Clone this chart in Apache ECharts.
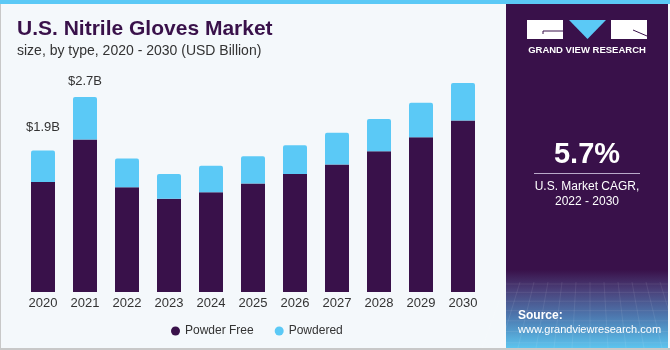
<!DOCTYPE html>
<html>
<head>
<meta charset="utf-8">
<script src="https://cdn.jsdelivr.net/npm/echarts@6/dist/echarts.min.js"></script>
<style>
html,body{margin:0;padding:0;background:#f4f8fb;}
#chart{width:670px;height:350px;}
</style>
</head>
<body>
<div id="chart"></div>
<script>
var categories = ['2020','2021','2022','2023','2024','2025','2026','2027','2028','2029','2030'];
var powderFree = [1.50, 2.08, 1.43, 1.27, 1.36, 1.48, 1.61, 1.74, 1.92, 2.11, 2.34];
var powdered   = [0.43, 0.58, 0.39, 0.34, 0.36, 0.37, 0.39, 0.43, 0.44, 0.47, 0.51];
var totalLabels = ['$1.9B', '$2.7B', '', '', '', '', '', '', '', '', ''];
var seriesNames = ['Powder Free', 'Powdered'];
var titleText = 'U.S. Nitrile Gloves Market';
var subtitleText = 'size, by type, 2020 - 2030 (USD Billion)';
var cagrValue = '5.7%';
var cagrLines = ['U.S. Market CAGR,', '2022 - 2030'];
var brandText = 'GRAND VIEW RESEARCH';
var sourceLines = ['Source:', 'www.grandviewresearch.com'];

var DARK = '#39114a';
var LIGHT = '#5bc9f6';
var FONT = '"Liberation Sans", Arial, sans-serif';

var chart = echarts.init(document.getElementById('chart'), null, {renderer: 'canvas'});

var labelDist = [17, 9];

var option = {
  backgroundColor: '#f4f8fb',
  animation: false,
  textStyle: {fontFamily: FONT},
  title: {
    text: titleText,
    subtext: subtitleText,
    left: 12,
    top: 14,
    itemGap: 4,
    textStyle: {fontSize: 21, fontWeight: 900, color: DARK, fontFamily: FONT},
    subtextStyle: {fontSize: 14, color: '#333', fontFamily: FONT}
  },
  legend: {
    data: seriesNames,
    left: 166,
    top: 320,
    icon: 'circle',
    itemWidth: 9,
    itemHeight: 9,
    itemGap: 21,
    textStyle: {fontSize: 12, color: '#333', fontFamily: FONT}
  },
  grid: {left: 22, width: 462, top: 72, height: 220},
  xAxis: {
    type: 'category',
    data: categories,
    axisLine: {show: false},
    axisTick: {show: false},
    axisLabel: {fontSize: 13, color: '#333', margin: 5, fontFamily: FONT}
  },
  yAxis: {
    type: 'value',
    min: 0,
    max: 3,
    show: false,
    splitLine: {show: false}
  },
  series: [
    {
      name: seriesNames[0],
      type: 'bar',
      stack: 'total',
      barWidth: 24,
      data: powderFree,
      itemStyle: {color: DARK}
    },
    {
      name: seriesNames[1],
      type: 'bar',
      stack: 'total',
      barWidth: 24,
      data: powdered.map(function (v, i) {
        return {
          value: v,
          label: {show: !!totalLabels[i], distance: labelDist[i] || 5}
        };
      }),
      itemStyle: {color: LIGHT, borderRadius: [2, 2, 0, 0]},
      label: {
        position: 'top',
        fontSize: 13,
        color: '#333',
        fontFamily: FONT,
        formatter: function (p) { return totalLabels[p.dataIndex]; }
      }
    }
  ],
  graphic: [
    {type: 'rect', shape: {x: 0, y: 0, width: 670, height: 4}, style: {fill: LIGHT}, z: 10},
    {type: 'rect', shape: {x: 0, y: 4, width: 1, height: 346}, style: {fill: '#c8c8c8'}, z: 10},
    {type: 'rect', shape: {x: 0, y: 348, width: 670, height: 2}, style: {fill: '#c8c8c8'}, z: 10},
    {type: 'rect', shape: {x: 506, y: 4, width: 162, height: 344}, style: {fill: DARK}, z: 5},
    {type: 'rect', shape: {x: 506, y: 270, width: 162, height: 78},
      style: {fill: new echarts.graphic.LinearGradient(0, 0, 0, 1, [
        {offset: 0, color: DARK},
        {offset: 0.25, color: '#4a3f78'},
        {offset: 0.6, color: '#4d79b0'},
        {offset: 1, color: '#5cc4ee'}
      ])}, z: 6},
    {type: 'rect', shape: {x: 527, y: 20, width: 36, height: 19}, style: {fill: '#fff'}, z: 11},
    {type: 'line', shape: {x1: 543, y1: 31, x2: 563, y2: 31}, style: {stroke: DARK, lineWidth: 1}, z: 12},
    {type: 'line', shape: {x1: 543, y1: 31, x2: 543, y2: 34}, style: {stroke: DARK, lineWidth: 1}, z: 12},
    {type: 'polygon', shape: {points: [[569, 20], [606, 20], [587.5, 39]]}, style: {fill: LIGHT}, z: 11},
    {type: 'rect', shape: {x: 611, y: 20, width: 36, height: 19}, style: {fill: '#fff'}, z: 11},
    {type: 'line', shape: {x1: 633, y1: 30, x2: 647, y2: 36}, style: {stroke: DARK, lineWidth: 1}, z: 12},
    {type: 'text', x: 587, y: 50, style: {text: brandText, fill: '#fff', font: 'bold 9.5px ' + FONT, textAlign: 'center', textVerticalAlign: 'middle'}, z: 11},
    {type: 'text', x: 587, y: 155, style: {text: cagrValue, fill: '#fff', font: 'bold 29px ' + FONT, textAlign: 'center', textVerticalAlign: 'middle'}, z: 11},
    {type: 'rect', shape: {x: 534, y: 173, width: 106, height: 1}, style: {fill: '#b9a9c9'}, z: 11},
    {type: 'text', x: 587, y: 187, style: {text: cagrLines[0], fill: '#fff', font: '12px ' + FONT, textAlign: 'center', textVerticalAlign: 'middle'}, z: 11},
    {type: 'text', x: 587, y: 202, style: {text: cagrLines[1], fill: '#fff', font: '12px ' + FONT, textAlign: 'center', textVerticalAlign: 'middle'}, z: 11},
    {type: 'text', x: 518, y: 316, style: {text: sourceLines[0], fill: '#fff', font: 'bold 12px ' + FONT, textAlign: 'left', textVerticalAlign: 'middle'}, z: 11},
    {type: 'text', x: 518, y: 330, style: {text: sourceLines[1], fill: '#fff', font: '11px ' + FONT, textAlign: 'left', textVerticalAlign: 'middle'}, z: 11}
  ]
};

(function () {
  var g = [];
  for (var i = 0; i < 12; i++) {
    var x = 506 + i * 14;
    g.push({type: 'line', shape: {x1: x, y1: 282, x2: x + (i - 6) * 4, y2: 348}, style: {stroke: 'rgba(255,255,255,0.08)', lineWidth: 1}, z: 7});
  }
  for (var j = 0; j < 8; j++) {
    var y = 284 + j * 8 + j * j * 0.3;
    g.push({type: 'line', shape: {x1: 506, y1: y, x2: 668, y2: y}, style: {stroke: 'rgba(255,255,255,0.08)', lineWidth: 1}, z: 7});
  }
  option.graphic = option.graphic.concat(g);
})();

chart.setOption(option);
</script>
</body>
</html>
